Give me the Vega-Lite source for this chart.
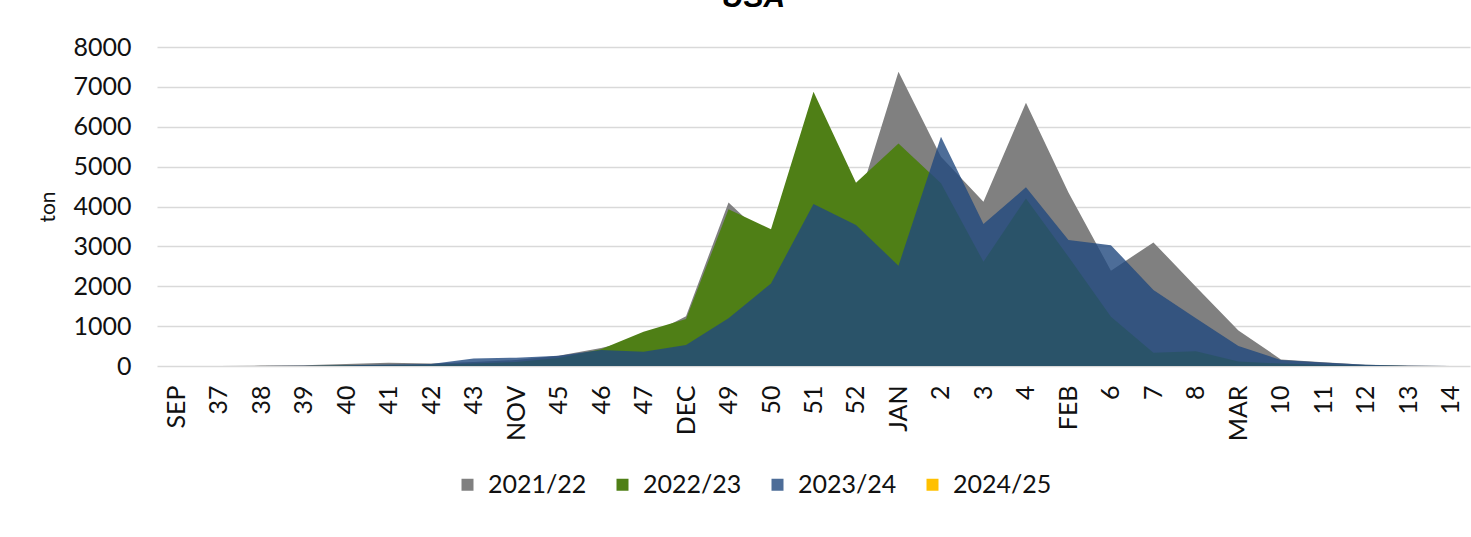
{
  "$schema": "https://vega.github.io/schema/vega-lite/v6.json",
  "autosize": "none",
  "width": 1313,
  "height": 319,
  "padding": {"left": 157, "top": 47, "right": 1, "bottom": 171},
  "background": "white",
  "title": {"text": "USA", "font": "Liberation Sans", "fontSize": 30, "fontWeight": "bold", "fontStyle": "italic", "color": "#000000", "anchor": "middle", "frame": "group", "dx": -60, "offset": 22},
  "config": {"view": {"stroke": null}, "font": "Lato"},
  "data": {"values": [
    {"w":"SEP","s":"2021/22","v":0},{"w":"37","s":"2021/22","v":0},{"w":"38","s":"2021/22","v":10},{"w":"39","s":"2021/22","v":20},{"w":"40","s":"2021/22","v":50},{"w":"41","s":"2021/22","v":80},{"w":"42","s":"2021/22","v":60},{"w":"43","s":"2021/22","v":100},{"w":"NOV","s":"2021/22","v":150},{"w":"45","s":"2021/22","v":260},{"w":"46","s":"2021/22","v":450},{"w":"47","s":"2021/22","v":700},{"w":"DEC","s":"2021/22","v":1250},{"w":"49","s":"2021/22","v":4100},{"w":"50","s":"2021/22","v":3100},{"w":"51","s":"2021/22","v":3700},{"w":"52","s":"2021/22","v":3950},{"w":"JAN","s":"2021/22","v":7380},{"w":"2","s":"2021/22","v":5250},{"w":"3","s":"2021/22","v":4120},{"w":"4","s":"2021/22","v":6600},{"w":"FEB","s":"2021/22","v":4350},{"w":"6","s":"2021/22","v":2390},{"w":"7","s":"2021/22","v":3100},{"w":"8","s":"2021/22","v":1990},{"w":"MAR","s":"2021/22","v":890},{"w":"10","s":"2021/22","v":165},{"w":"11","s":"2021/22","v":95},{"w":"12","s":"2021/22","v":30},{"w":"13","s":"2021/22","v":10},{"w":"14","s":"2021/22","v":0},
    {"w":"SEP","s":"2022/23","v":0},{"w":"37","s":"2022/23","v":0},{"w":"38","s":"2022/23","v":0},{"w":"39","s":"2022/23","v":0},{"w":"40","s":"2022/23","v":10},{"w":"41","s":"2022/23","v":20},{"w":"42","s":"2022/23","v":30},{"w":"43","s":"2022/23","v":60},{"w":"NOV","s":"2022/23","v":100},{"w":"45","s":"2022/23","v":200},{"w":"46","s":"2022/23","v":420},{"w":"47","s":"2022/23","v":860},{"w":"DEC","s":"2022/23","v":1180},{"w":"49","s":"2022/23","v":3930},{"w":"50","s":"2022/23","v":3430},{"w":"51","s":"2022/23","v":6875},{"w":"52","s":"2022/23","v":4595},{"w":"JAN","s":"2022/23","v":5580},{"w":"2","s":"2022/23","v":4580},{"w":"3","s":"2022/23","v":2615},{"w":"4","s":"2022/23","v":4200},{"w":"FEB","s":"2022/23","v":2740},{"w":"6","s":"2022/23","v":1235},{"w":"7","s":"2022/23","v":335},{"w":"8","s":"2022/23","v":370},{"w":"MAR","s":"2022/23","v":110},{"w":"10","s":"2022/23","v":60},{"w":"11","s":"2022/23","v":30},{"w":"12","s":"2022/23","v":10},{"w":"13","s":"2022/23","v":0},{"w":"14","s":"2022/23","v":0},
    {"w":"SEP","s":"2023/24","v":0},{"w":"37","s":"2023/24","v":0},{"w":"38","s":"2023/24","v":0},{"w":"39","s":"2023/24","v":5},{"w":"40","s":"2023/24","v":20},{"w":"41","s":"2023/24","v":40},{"w":"42","s":"2023/24","v":50},{"w":"43","s":"2023/24","v":190},{"w":"NOV","s":"2023/24","v":210},{"w":"45","s":"2023/24","v":260},{"w":"46","s":"2023/24","v":400},{"w":"47","s":"2023/24","v":360},{"w":"DEC","s":"2023/24","v":525},{"w":"49","s":"2023/24","v":1195},{"w":"50","s":"2023/24","v":2070},{"w":"51","s":"2023/24","v":4060},{"w":"52","s":"2023/24","v":3535},{"w":"JAN","s":"2023/24","v":2515},{"w":"2","s":"2023/24","v":5750},{"w":"3","s":"2023/24","v":3560},{"w":"4","s":"2023/24","v":4480},{"w":"FEB","s":"2023/24","v":3160},{"w":"6","s":"2023/24","v":3030},{"w":"7","s":"2023/24","v":1905},{"w":"8","s":"2023/24","v":1195},{"w":"MAR","s":"2023/24","v":500},{"w":"10","s":"2023/24","v":150},{"w":"11","s":"2023/24","v":90},{"w":"12","s":"2023/24","v":30},{"w":"13","s":"2023/24","v":5},{"w":"14","s":"2023/24","v":0}
  ]},
  "mark": {"type": "area", "interpolate": "linear"},
  "encoding": {
    "x": {
      "field": "w", "type": "ordinal",
      "scale": {"type": "point", "padding": 0.45, "domain": ["SEP","37","38","39","40","41","42","43","NOV","45","46","47","DEC","49","50","51","52","JAN","2","3","4","FEB","6","7","8","MAR","10","11","12","13","14"]},
      "axis": {"title": null, "labelAngle": -90, "labelFontSize": 25, "labelFont": "Lato", "labelColor": "#111111", "ticks": false, "domain": false, "grid": false, "labelPadding": 19, "labelOverlap": false}
    },
    "y": {
      "field": "v", "type": "quantitative", "stack": null,
      "scale": {"domain": [0, 8000], "nice": false},
      "axis": {"title": "ton", "titleFont": "Lato", "titleFontSize": 21, "titleFontWeight": "normal", "titleColor": "#111111", "titlePadding": 14, "values": [0,1000,2000,3000,4000,5000,6000,7000,8000], "format": "d", "labelFontSize": 25, "labelFont": "Lato", "labelColor": "#111111", "ticks": false, "domain": false, "labelPadding": 26, "gridColor": "#d9d9d9", "gridWidth": 1.5}
    },
    "color": {
      "field": "s", "type": "nominal",
      "scale": {"domain": ["2021/22","2022/23","2023/24","2024/25"], "range": ["#808080","#4f7f16","rgba(32,73,126,0.8)","#ffc000"]},
      "legend": {"title": null, "orient": "none", "legendX": 298, "legendY": 425, "direction": "horizontal", "symbolType": "square", "symbolSize": 144, "labelFontSize": 25, "labelFont": "Lato", "labelColor": "#111111", "labelOffset": 8, "columnPadding": 23, "symbolStrokeWidth": 0}
    }
  }
}
